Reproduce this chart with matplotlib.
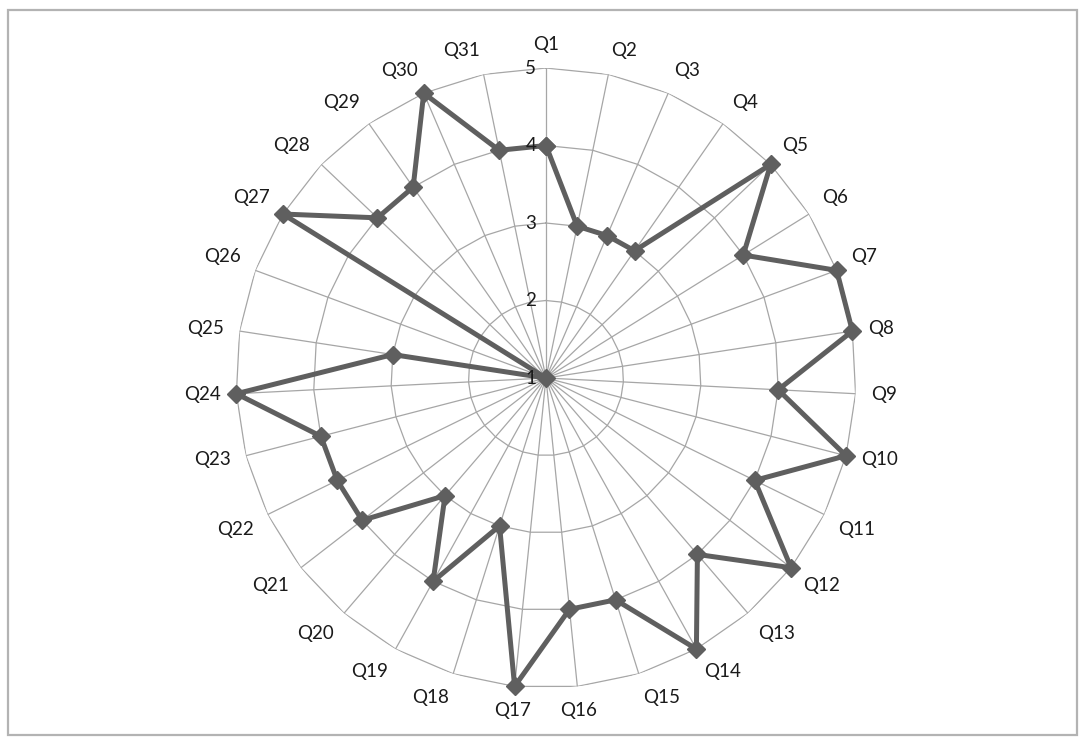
import matplotlib.pyplot as plt
from matplotlib.patches import Rectangle
import numpy as np

labels = [f'Q{i}' for i in range(1, 32)]
values = [4, 3, 3, 3, 5, 4, 5, 5, 4, 5, 4, 5, 4, 5, 4, 4, 5, 3, 4, 3,
          4, 4, 4, 5, 3, 1, 5, 4, 4, 5, 4]
rings = [1, 2, 3, 4, 5]

plt.rcParams['font.family'] = ['Lato', 'DejaVu Sans']

n = len(labels)
theta = np.linspace(0, 2 * np.pi, n, endpoint=False)

fig = plt.figure(figsize=(10.85, 7.45), dpi=100)
fig.patches.append(Rectangle((8 / 1085, 10 / 745), 1069 / 1085, 725 / 745,
                             transform=fig.transFigure, fill=False,
                             edgecolor='#b3b3b3', linewidth=1.6))

ax = fig.add_axes([0.2175, 0.0765, 0.5714, 0.8322], projection='polar')
ax.set_theta_zero_location('N')
ax.set_theta_direction(-1)
ax.set_ylim(1, 5)
ax.grid(False)
ax.spines['polar'].set_visible(False)
ax.set_xticks([])
ax.set_yticks([])

# polygon gridlines and spokes, excel style
tc = np.append(theta, theta[0])
for r in rings[1:]:
    ax.plot(tc, [r] * (n + 1), color='#a6a6a6', lw=0.9, zorder=1)
for t in theta:
    ax.plot([t, t], [1, 5], color='#a6a6a6', lw=0.9, zorder=1)

vals = values + values[:1]
ax.plot(tc, vals, color='#5f5f5f', lw=3.6, marker='D', markersize=9,
        zorder=3, clip_on=False)

for t, lab in zip(theta, labels):
    s, c = np.sin(t), np.cos(t)
    ha = 'center' if abs(s) < 0.15 else ('left' if s > 0 else 'right')
    va = 'center' if abs(c) < 0.3 else ('bottom' if c > 0 else 'top')
    ax.text(t, 5.2, lab, ha=ha, va=va, fontsize=13.5, color='#1a1a1a')

for r in rings:
    ax.annotate(str(r), xy=(0, r), xytext=(-7, 0), textcoords='offset points',
                ha='right', va='center', fontsize=13.5, color='#1a1a1a',
                zorder=4)

fig.savefig('out.png', dpi=100)
